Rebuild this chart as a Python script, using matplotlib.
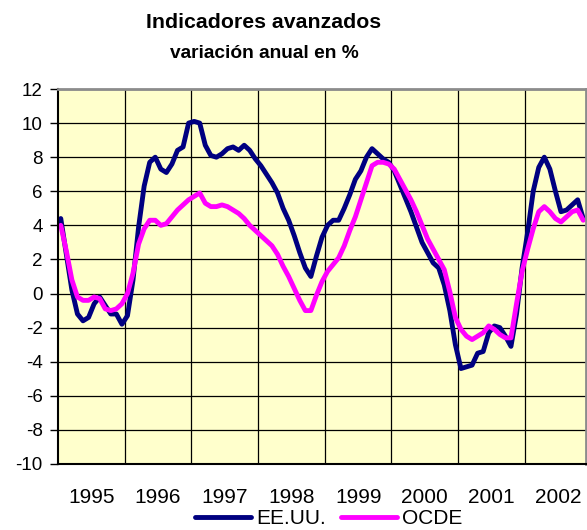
import matplotlib.pyplot as plt
import numpy as np

# monthly values, Jan 1995 - Nov 2002
eeuu = [4.4, 2.3, 0.2, -1.2, -1.6, -1.4, -0.6, -0.2, -0.7, -1.2, -1.2, -1.8,
        -1.3, 0.8, 3.9, 6.3, 7.7, 8.0, 7.3, 7.1, 7.6, 8.4, 8.6, 10.0,
        10.1, 10.0, 8.7, 8.1, 8.0, 8.2, 8.5, 8.6, 8.4, 8.7, 8.4, 7.9,
        7.5, 7.0, 6.5, 5.9, 5.0, 4.3, 3.4, 2.4, 1.5, 1.0, 2.2, 3.3,
        4.0, 4.3, 4.3, 5.0, 5.8, 6.7, 7.2, 8.0, 8.5, 8.2, 7.9, 7.7,
        7.2, 6.4, 5.6, 4.8, 3.9, 3.0, 2.4, 1.8, 1.5, 0.5, -1.0, -3.0,
        -4.4, -4.3, -4.2, -3.5, -3.4, -2.3, -1.9, -2.0, -2.5, -3.1, -1.2, 1.5,
        3.6, 6.0, 7.4, 8.0, 7.3, 6.0, 4.8, 4.9, 5.2, 5.5, 4.4]
ocde = [4.0, 2.5, 0.8, -0.2, -0.4, -0.4, -0.2, -0.3, -0.9, -1.0, -0.9, -0.6,
        0.0, 1.2, 2.9, 3.8, 4.3, 4.3, 4.0, 4.1, 4.5, 4.9, 5.2, 5.5,
        5.7, 5.9, 5.3, 5.1, 5.1, 5.2, 5.1, 4.9, 4.7, 4.4, 4.0, 3.7,
        3.4, 3.1, 2.8, 2.3, 1.6, 1.0, 0.3, -0.4, -1.0, -1.0, -0.1, 0.7,
        1.3, 1.7, 2.1, 2.8, 3.7, 4.5, 5.5, 6.5, 7.5, 7.7, 7.7, 7.6,
        7.3, 6.7, 6.1, 5.5, 4.8, 4.0, 3.2, 2.6, 2.0, 1.4, 0.1, -1.4,
        -2.1, -2.5, -2.7, -2.5, -2.3, -1.9, -2.1, -2.4, -2.6, -2.6, -0.6, 1.3,
        2.6, 3.8, 4.8, 5.1, 4.8, 4.4, 4.2, 4.5, 4.8, 4.9, 4.3]
years = ['1995', '1996', '1997', '1998', '1999', '2000', '2001', '2002']

plt.rcParams['font.family'] = ['Liberation Sans', 'DejaVu Sans']
plt.rcParams['axes.unicode_minus'] = False

fig = plt.figure(figsize=(5.87, 5.30), dpi=100)
ax = fig.add_axes([58 / 587, 1 - 464 / 530, 528 / 587, 375 / 530])
ax.set_facecolor('#FFFFCC')

x = np.arange(len(eeuu))
ax.plot(x, eeuu, color='#000080', lw=3.5, label='EE.UU.', solid_capstyle='round')
ax.plot(x, ocde, color='#FF00FF', lw=3.5, label='OCDE', solid_capstyle='round')

ax.set_xlim(-0.5, len(eeuu) - 0.5)
ax.set_ylim(-10, 12)
ax.set_yticks(range(-10, 13, 2))
ax.set_xticks([5.5 + 12 * i for i in range(len(years))])
ax.set_xticklabels(years)
ax.set_xticks([11.5 + 12 * i for i in range(7)], minor=True)
ax.tick_params(axis='x', which='both', length=0, labelsize=15, pad=17)
ax.tick_params(axis='y', length=6, width=1, labelsize=13.5, pad=5)

ax.grid(axis='y', which='major', color='black', lw=0.9)
ax.grid(axis='x', which='minor', color='black', lw=0.9)
ax.set_axisbelow(True)

for s in ['left', 'bottom']:
    ax.spines[s].set_color('black')
    ax.spines[s].set_linewidth(1.5)
for s in ['top', 'right']:
    ax.spines[s].set_color('#8C8C8C')
    ax.spines[s].set_linewidth(2)

fig.text(264 / 587, 1 - 22 / 530, 'Indicadores avanzados', ha='center', va='center',
         fontsize=15.3, fontweight='bold')
fig.text(264 / 587, 1 - 53 / 530, 'variación anual en %', ha='center', va='center',
         fontsize=13.8, fontweight='bold')

fig.legend(loc='center', bbox_to_anchor=(329 / 587, 1 - 519 / 530), ncol=2,
           frameon=False, fontsize=15, handlelength=2.7, handletextpad=0.25,
           columnspacing=0.7, borderpad=0)

fig.savefig('out.png', dpi=100)
